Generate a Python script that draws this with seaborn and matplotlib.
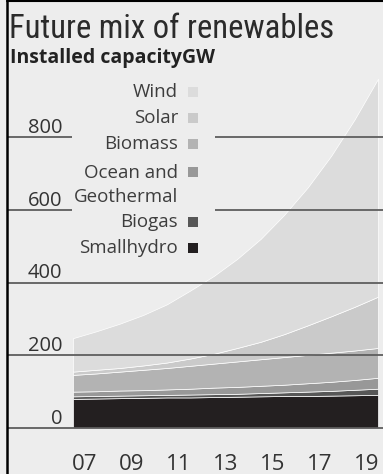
import pandas as pd
import matplotlib.pyplot as plt
import seaborn as sns
from matplotlib.lines import Line2D
from matplotlib.patches import Rectangle

# year boundaries on the x axis and stacked installed capacity (GW)
years = list(range(2007, 2021))
smallhydro = [80, 81, 82, 83, 84, 84, 85, 86, 87, 88, 88, 89, 90, 91]
biogas = [7, 7, 7, 7, 7, 8, 8, 8, 9, 10, 12, 13, 15, 17]
ocean_geo = [13, 13, 14, 14, 15, 16, 18, 19, 20, 21, 23, 25, 27, 30]
biomass = [46, 49, 52, 56, 59, 63, 66, 70, 73, 76, 78, 80, 81, 82]
solar = [9, 10, 10, 12, 15, 20, 27, 37, 48, 63, 81, 100, 120, 141]
wind = [92, 106, 122, 139, 160, 187, 214, 245, 283, 328, 379, 441, 515, 599]

series_names = ['Smallhydro', 'Biogas', 'Ocean and\nGeothermal', 'Biomass', 'Solar', 'Wind']
series_colors = ['#231f20', '#575757', '#989898', '#b3b3b3', '#cacaca', '#dcdcdc']
label_years = [2007, 2009, 2011, 2013, 2015, 2017, 2019]
tick_labels = ['07', '09', '11', '13', '15', '17', '19']
y_ticks = [0, 200, 400, 600, 800]

df = pd.DataFrame({
    'Smallhydro': smallhydro,
    'Biogas': biogas,
    'Ocean and\nGeothermal': ocean_geo,
    'Biomass': biomass,
    'Solar': solar,
    'Wind': wind,
}, index=years)

bg = '#ededed'
grid_col = '#5e5e5e'
text_col = '#333333'

sns.set_theme(style='white', rc={'axes.facecolor': bg, 'figure.facecolor': bg})
plt.rcParams['font.family'] = ['Open Sans', 'DejaVu Sans']

W, H = 383, 474
fig = plt.figure(figsize=(W / 100, H / 100), dpi=100)


def fx(px):
    return px / W


def fy(py):
    return 1 - py / H


# axes: left frame at px 8, zero line at px 428
ax = fig.add_axes([fx(8), fy(428), fx(383) - fx(8), fy(5) - fy(428)])
ppy = 305 / 13          # pixels per year
ppv = 72.75 / 200       # pixels per GW
x0, x1 = 2007 - 65 / ppy, 2020 + 5 / ppy
ax.set_xlim(x0, x1)
ax.set_ylim(0, 423 / ppv)

ax.stackplot(df.index, [df[c] for c in series_names], colors=series_colors,
             edgecolor='white', linewidth=0.5, zorder=2)

# gridlines, the upper two are broken by the legend
for v in [200, 400]:
    ax.axhline(v, color=grid_col, lw=1.3, zorder=3)
for v in [600, 800]:
    ax.hlines(v, x0, 2007 - 1 / ppy, color=grid_col, lw=1.3, zorder=3)
    ax.hlines(v, 2007 + 142 / ppy, x1, color=grid_col, lw=1.3, zorder=3)

for v in y_ticks:
    ax.text(2007 - 11 / ppy, v + 4 / ppv, str(v), ha='right', va='baseline',
            fontsize=14.5, color=text_col, zorder=4)

sns.despine(ax=ax, left=True, top=True, right=True)
ax.spines['bottom'].set_color(grid_col)
ax.spines['bottom'].set_linewidth(1.3)
ax.set_yticks([])
ax.set_xticks([y + 0.5 for y in label_years])
ax.set_xticklabels(tick_labels)
ax.set_xticks(years, minor=True)
ax.tick_params(axis='x', which='major', length=0, pad=19, labelsize=16, labelcolor=text_col)
ax.tick_params(axis='x', which='minor', length=7.5, width=1.3, color=grid_col, direction='out')

# legend drawn by hand: text right-aligned, swatch after it
legend_rows = [('Wind', 97), ('Solar', 123), ('Biomass', 149),
               ('Ocean and\nGeothermal', 178), ('Biogas', 227), ('Smallhydro', 253)]
for name, base in legend_rows:
    col = series_colors[series_names.index(name)]
    for i, line in enumerate(name.split('\n')):
        fig.text(fx(178), fy(base + i * 24), line, ha='right', va='baseline',
                 fontsize=13.5, color='#3d3d3d')
    fig.add_artist(Rectangle((fx(188), fy(base - 0.5)), fx(10), 10 / H,
                             transform=fig.transFigure, color=col, lw=0))

# titles; the headline is shrunk to its width in the reference if no narrow face exists
title = fig.text(fx(9), fy(38), 'Future mix of renewables', ha='left', va='baseline',
                 fontsize=25.5, color='#2b2b2b',
                 family=['Liberation Sans Narrow', 'Roboto Condensed', 'Liberation Sans'])
renderer = fig.canvas.get_renderer()
tw = title.get_window_extent(renderer).width
if tw > 325:
    title.set_fontsize(25.5 * 325 / tw)
fig.text(fx(10), fy(63), 'Installed capacityGW', ha='left', va='baseline',
         fontsize=14, fontweight='bold', color='#222222')

# black frame on the left and top
fig.add_artist(Line2D([fx(6.5), fx(6.5)], [0, 1], color='black', lw=1.8,
                      transform=fig.transFigure))
fig.add_artist(Line2D([fx(6.5), 1], [fy(0.8), fy(0.8)], color='black', lw=1.5,
                      transform=fig.transFigure))

fig.savefig('out.png', dpi=100, facecolor=bg)
